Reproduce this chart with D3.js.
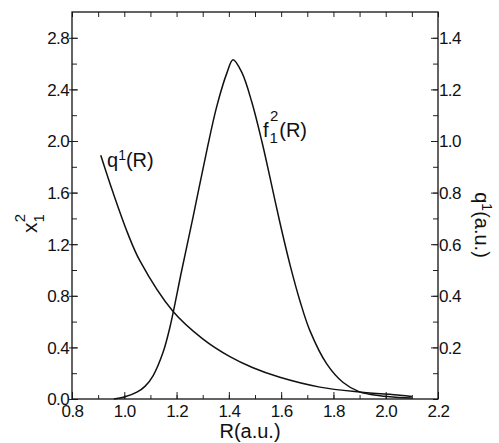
<!DOCTYPE html>
<html>
<head>
<meta charset="utf-8">
<script src="https://cdn.jsdelivr.net/npm/d3@7"></script>
<style>
  html, body { margin: 0; padding: 0; background: #fff; }
  svg { display: block; }
  text { font-family: "Liberation Sans", Arial, sans-serif; fill: #111; }
</style>
</head>
<body>
<svg id="chart" width="499" height="443"></svg>
<script>
// ---- data ----
const fR = [0.96, 1.0, 1.05, 1.08, 1.11, 1.148, 1.175, 1.22, 1.263, 1.316, 1.354, 1.393, 1.416, 1.45, 1.488, 1.527, 1.557, 1.595, 1.634, 1.672, 1.71, 1.775, 1.836, 1.90, 1.978, 2.05, 2.10];
const fVals = [0.0, 0.015, 0.055, 0.10, 0.18, 0.36, 0.56, 1.0, 1.41, 1.93, 2.27, 2.53, 2.63, 2.53, 2.30, 1.99, 1.72, 1.37, 1.04, 0.76, 0.53, 0.27, 0.13, 0.055, 0.025, 0.012, 0.008];
const qR = [0.91, 0.957, 1.014, 1.06, 1.186, 1.30, 1.404, 1.49, 1.595, 1.748, 1.90, 2.054, 2.10];
const qVals = [0.945, 0.80, 0.64, 0.535, 0.34, 0.233, 0.164, 0.122, 0.084, 0.046, 0.027, 0.015, 0.01];
const xTicks = [0.8, 1.0, 1.2, 1.4, 1.6, 1.8, 2.0, 2.2];
const xTickLabels = ["0.8", "1.0", "1.2", "1.4", "1.6", "1.8", "2.0", "2.2"];
const leftTicks = [0.0, 0.4, 0.8, 1.2, 1.6, 2.0, 2.4, 2.8];
const leftTickLabels = ["0.0", "0.4", "0.8", "1.2", "1.6", "2.0", "2.4", "2.8"];
const rightTicks = [0.2, 0.4, 0.6, 0.8, 1.0, 1.2, 1.4];
const rightTickLabels = ["0.2", "0.4", "0.6", "0.8", "1.0", "1.2", "1.4"];
const xMinor = d3.range(8, 23).map(d => d / 10);
const leftMinor = d3.range(0, 15).map(d => d / 5);
const rightMinor = d3.range(0, 15).map(d => d / 10);

// ---- layout ----
const L = 72, Rt = 438, T = 12, B = 399;
const svg = d3.select("#chart");
const x = d3.scaleLinear().domain([0.8, 2.2]).range([L, Rt]);
const yL = d3.scaleLinear().domain([0, 3.0]).range([B, T]);
const yR = d3.scaleLinear().domain([0, 1.5]).range([B, T]);

function styleAxis(g) {
  g.select(".domain").remove();
  g.selectAll(".tick line").attr("stroke", "#222").attr("stroke-width", 1);
}

// minor ticks (inward)
svg.append("g").attr("transform", `translate(0,${B})`)
  .call(d3.axisTop(x).tickValues(xMinor).tickSize(4).tickFormat(""))
  .call(styleAxis);
svg.append("g").attr("transform", `translate(0,${T})`)
  .call(d3.axisBottom(x).tickValues(xMinor).tickSize(5).tickFormat(""))
  .call(styleAxis);
svg.append("g").attr("transform", `translate(${L},0)`)
  .call(d3.axisRight(yL).tickValues(leftMinor).tickSize(5).tickFormat(""))
  .call(styleAxis);
svg.append("g").attr("transform", `translate(${Rt},0)`)
  .call(d3.axisLeft(yR).tickValues(rightMinor).tickSize(5).tickFormat(""))
  .call(styleAxis);

// major ticks with labels
const xAx = svg.append("g").attr("transform", `translate(0,${B})`)
  .call(d3.axisTop(x).tickValues(xTicks).tickSize(7).tickFormat((d, i) => xTickLabels[i]))
  .call(styleAxis);
xAx.selectAll(".tick text").attr("y", 18).attr("dy", 0)
  .attr("font-size", 17).attr("letter-spacing", -0.6).attr("fill", "#111")
  .attr("font-family", "Liberation Sans, Arial, sans-serif");

const lAx = svg.append("g").attr("transform", `translate(${L},0)`)
  .call(d3.axisRight(yL).tickValues(leftTicks).tickSize(6).tickFormat((d, i) => leftTickLabels[i]))
  .call(styleAxis);
lAx.selectAll(".tick text").attr("x", -3).attr("text-anchor", "end").attr("dy", "0.35em")
  .attr("font-size", 17).attr("letter-spacing", -0.6).attr("fill", "#111")
  .attr("font-family", "Liberation Sans, Arial, sans-serif");
lAx.selectAll(".tick").append("line").attr("x1", -3).attr("x2", 0).attr("stroke", "#222");

const rAx = svg.append("g").attr("transform", `translate(${Rt},0)`)
  .call(d3.axisLeft(yR).tickValues(rightTicks).tickSize(7).tickFormat((d, i) => rightTickLabels[i]))
  .call(styleAxis);
rAx.selectAll(".tick text").attr("x", 1).attr("text-anchor", "start").attr("dy", "0.35em")
  .attr("font-size", 17).attr("letter-spacing", -0.6).attr("fill", "#111")
  .attr("font-family", "Liberation Sans, Arial, sans-serif");

// frame
svg.append("rect").attr("x", L).attr("y", T).attr("width", Rt - L).attr("height", B - T)
  .attr("fill", "none").attr("stroke", "#111").attr("stroke-width", 1.3);

// curves
const lineF = d3.line().x((d, i) => x(fR[i])).y(d => yL(d)).curve(d3.curveCatmullRom.alpha(0.5));
const lineQ = d3.line().x((d, i) => x(qR[i])).y(d => yR(d)).curve(d3.curveCatmullRom.alpha(0.5));
svg.append("path").attr("d", lineF(fVals)).attr("fill", "none").attr("stroke", "#111").attr("stroke-width", 1.5);
svg.append("path").attr("d", lineQ(qVals)).attr("fill", "none").attr("stroke", "#111").attr("stroke-width", 1.5);

// curve labels
const fl = svg.append("text").attr("x", 263).attr("y", 137).attr("font-size", 20);
fl.append("tspan").text("f");
fl.append("tspan").attr("font-size", 15).attr("dx", 1).attr("dy", 6).text("1");
fl.append("tspan").attr("font-size", 15).attr("dx", -8).attr("dy", -22).text("2");
fl.append("tspan").attr("dy", 16).attr("dx", 1).text("(R)");

const ql = svg.append("text").attr("x", 107).attr("y", 167).attr("font-size", 20);
ql.append("tspan").text("q");
ql.append("tspan").attr("font-size", 14).attr("dy", -7).text("1");
ql.append("tspan").attr("dy", 7).text("(R)");

// axis titles
svg.append("text").attr("x", 250).attr("y", 438).attr("text-anchor", "middle")
  .attr("font-size", 20).text("R(a.u.)");

const yt = svg.append("text").attr("transform", "translate(37,233) rotate(-90)").attr("font-size", 21);
yt.append("tspan").text("x");
yt.append("tspan").attr("font-size", 15).attr("dy", 7).text("1");
yt.append("tspan").attr("font-size", 15).attr("dx", -8).attr("dy", -19).text("2");

const rt = svg.append("text").attr("transform", "translate(475,225) rotate(90)")
  .attr("text-anchor", "middle").attr("font-size", 20);
rt.append("tspan").text("q");
rt.append("tspan").attr("font-size", 14).attr("dy", -7).text("1");
rt.append("tspan").attr("dy", 7).text("(a.u.)");
</script>
</body>
</html>
